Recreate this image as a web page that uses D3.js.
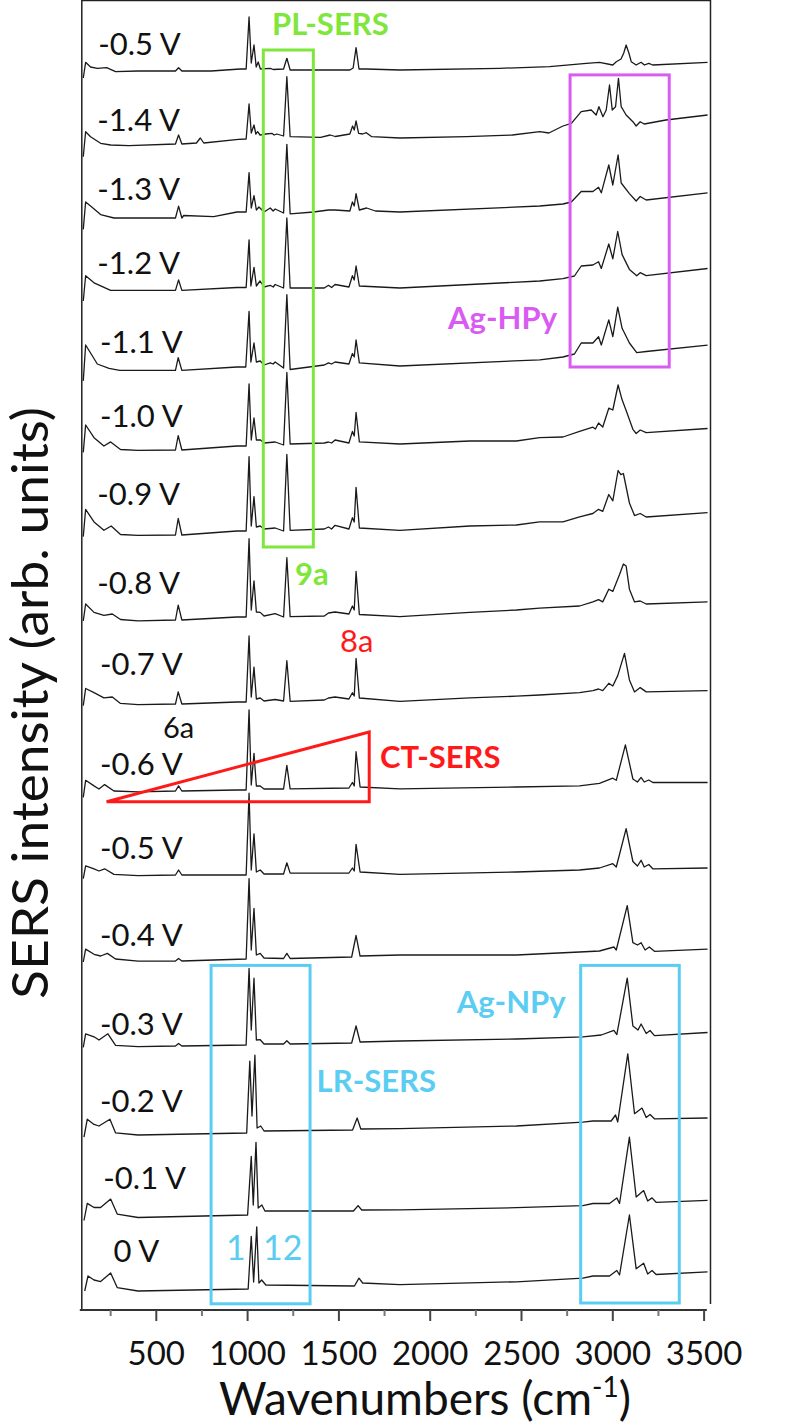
<!DOCTYPE html>
<html>
<head>
<meta charset="utf-8">
<script src="https://cdn.jsdelivr.net/npm/d3@7"></script>
<style>
  body { margin: 0; background: #fff; }
  text { font-family: Lato, "Open Sans", sans-serif; }
</style>
</head>
<body>
<script>
// Spectra from top to bottom, values are intensity above each trace's own offset
const labels = ["-0.5 V", "-1.4 V", "-1.3 V", "-1.2 V", "-1.1 V", "-1.0 V", "-0.9 V", "-0.8 V",
                "-0.7 V", "-0.6 V", "-0.5 V", "-0.4 V", "-0.3 V", "-0.2 V", "-0.1 V", "0 V"];
const offsets = [12400, 11720, 10980, 10220, 9440, 8660, 7800, 6930,
                 6090, 5210, 4360, 3550, 2690, 1810, 1000, 260];

const spA = [[100,-80],[113,77],[140,30],[177,17],[228,23],[277,-17],[400,-10],[605,-10],[622,23],[640,-10],[800,-10],[960,10],[992,10],[1008,530],[1020,70],[1035,250],[1047,30],[1058,80],[1070,10],[1124,17],[1140,5],[1197,10],[1215,117],[1233,0],[1400,0],[1560,0],[1578,20],[1594,223],[1610,10],[1650,10],[1834,0],[2380,17],[2654,33],[2855,67],[2927,77],[3000,50],[3019,83],[3045,110],[3060,170],[3073,250],[3088,170],[3101,83],[3128,50],[3155,77],[3173,50],[3197,67],[3219,50],[3519,77]];
const spB = [[100,-187],[113,63],[140,13],[195,-53],[250,-70],[350,-77],[605,-60],[622,30],[640,-60],[720,-50],[741,0],[760,-50],[950,-13],[992,-10],[1008,340],[1020,50],[1035,130],[1045,40],[1055,63],[1068,30],[1100,40],[1133,47],[1145,30],[1160,40],[1197,20],[1215,613],[1233,13],[1400,7],[1452,30],[1480,15],[1560,40],[1575,120],[1584,80],[1594,170],[1608,47],[1630,40],[1650,53],[1680,13],[1834,0],[2199,13],[2450,30],[2600,63],[2650,50],[2727,120],[2773,147],[2827,263],[2882,280],[2909,230],[2924,313],[2946,213],[2964,280],[2982,530],[2997,280],[3015,313],[3031,597],[3046,313],[3073,230],[3110,163],[3128,120],[3150,163],[3172,140],[3291,180],[3519,230]];
const spC = [[100,-174],[113,100],[140,60],[195,-26],[268,-60],[605,-60],[622,58],[640,-60],[650,-35],[814,-47],[942,0],[992,0],[1008,394],[1020,40],[1035,163],[1048,20],[1062,50],[1090,0],[1124,40],[1140,10],[1151,30],[1197,-10],[1215,676],[1233,-18],[1361,0],[1443,20],[1479,20],[1560,10],[1574,100],[1584,60],[1594,184],[1612,20],[1652,40],[1700,10],[1834,0],[2600,60],[2727,80],[2773,100],[2827,205],[2891,205],[2922,247],[2937,192],[2978,470],[3000,270],[3029,570],[3046,290],[3091,184],[3128,110],[3150,155],[3183,120],[3519,192]];
const spD = [[100,-130],[113,123],[159,52],[250,-24],[605,-24],[622,81],[640,-24],[942,5],[992,5],[1008,481],[1018,20],[1035,207],[1048,20],[1068,70],[1090,10],[1124,27],[1140,10],[1151,35],[1197,0],[1215,700],[1233,0],[1420,0],[1443,27],[1460,5],[1479,35],[1555,10],[1574,123],[1584,80],[1594,220],[1612,20],[1834,0],[2600,70],[2727,94],[2790,120],[2827,220],[2891,230],[2922,262],[2937,195],[2978,440],[3000,292],[3027,565],[3051,334],[3091,186],[3131,123],[3150,153],[3183,123],[3519,195]];
const spE = [[100,-149],[113,210],[177,20],[241,-23],[300,-44],[605,-44],[620,83],[640,-44],[942,-10],[990,-10],[1008,546],[1018,40],[1035,230],[1048,40],[1069,50],[1090,10],[1124,32],[1140,20],[1151,40],[1197,-20],[1215,714],[1233,-35],[1420,10],[1443,32],[1460,20],[1479,40],[1555,20],[1574,125],[1584,90],[1594,260],[1612,32],[1834,0],[2600,62],[2727,90],[2790,120],[2827,230],[2891,230],[2922,293],[2937,210],[2978,461],[3000,293],[3027,588],[3051,377],[3091,230],[3131,133],[3183,145],[3519,209]];
const spF = [[100,-84],[113,190],[159,63],[213,-20],[250,21],[304,-55],[400,-63],[605,-60],[620,84],[640,-60],[942,-20],[992,-20],[1008,602],[1020,40],[1035,260],[1048,40],[1069,42],[1090,10],[1151,20],[1197,-10],[1215,715],[1233,0],[1420,10],[1443,20],[1460,10],[1479,40],[1555,10],[1574,126],[1584,80],[1594,315],[1612,21],[1834,0],[2217,30],[2472,30],[2599,63],[2727,70],[2818,126],[2891,168],[2905,150],[2922,210],[2945,170],[2978,358],[3000,340],[3029,590],[3051,442],[3073,336],[3110,147],[3128,105],[3150,140],[3183,113],[3519,155]];
const spG = [[100,-66],[113,207],[159,81],[213,-3],[253,40],[304,-45],[400,-54],[605,-50],[620,115],[640,-50],[942,-10],[992,-10],[1008,734],[1020,40],[1035,334],[1048,30],[1069,40],[1090,10],[1151,20],[1197,-10],[1215,755],[1233,-3],[1420,10],[1443,30],[1460,10],[1479,47],[1555,10],[1574,123],[1584,80],[1594,426],[1612,20],[1834,-3],[2217,40],[2472,50],[2599,81],[2727,81],[2818,132],[2891,165],[2922,207],[2945,186],[2978,355],[3000,292],[3029,595],[3044,553],[3058,565],[3091,270],[3119,144],[3150,165],[3183,130],[3519,174]];
const spH = [[100,-38],[113,130],[159,46],[213,17],[259,30],[304,-25],[400,-38],[605,-30],[620,118],[640,-30],[942,0],[992,0],[1008,783],[1020,70],[1035,362],[1048,50],[1069,46],[1090,10],[1151,33],[1197,0],[1215,593],[1233,4],[1420,10],[1443,40],[1479,50],[1555,30],[1574,110],[1584,70],[1594,455],[1612,25],[1834,4],[2217,46],[2472,70],[2599,88],[2818,110],[2891,151],[2922,173],[2945,151],[2978,278],[3000,256],[3037,425],[3058,530],[3073,510],[3091,278],[3119,151],[3150,160],[3183,130],[3519,151]];
const spI = [[100,-46],[113,125],[159,83],[213,31],[259,40],[304,-24],[400,-37],[605,-30],[620,91],[640,-30],[942,-10],[992,-10],[1008,650],[1020,40],[1035,339],[1048,20],[1069,30],[1090,0],[1151,15],[1197,0],[1215,403],[1233,-3],[1420,10],[1443,30],[1479,40],[1555,20],[1574,83],[1584,50],[1594,425],[1612,30],[1834,-3],[2217,31],[2472,48],[2599,60],[2818,83],[2891,104],[2922,120],[2945,104],[2978,177],[3000,150],[3027,254],[3064,476],[3091,211],[3119,91],[3150,134],[3183,91],[3519,104]];
const spJ = [[100,-84],[113,87],[159,31],[186,0],[217,44],[268,-20],[400,-29],[605,-20],[622,31],[640,-20],[942,-10],[992,-10],[1008,792],[1020,40],[1035,356],[1048,30],[1069,31],[1090,0],[1197,0],[1215,236],[1233,1],[1555,10],[1574,65],[1584,30],[1594,373],[1616,20],[1834,1],[2472,20],[2818,31],[2927,57],[3000,108],[3019,87],[3069,441],[3110,100],[3135,70],[3155,116],[3172,70],[3197,90],[3219,65],[3519,65]];
const spK = [[100,-46],[113,82],[159,52],[186,30],[217,52],[268,-4],[400,-16],[605,-10],[622,40],[640,-10],[992,-10],[1008,808],[1020,40],[1035,402],[1048,20],[1069,40],[1090,0],[1197,0],[1215,112],[1233,9],[1555,10],[1574,60],[1584,30],[1594,296],[1616,20],[1834,-4],[2472,20],[2818,40],[2927,60],[3000,103],[3019,70],[3073,454],[3110,125],[3135,80],[3155,137],[3172,70],[3197,95],[3219,52],[3519,60]];
const spL = [[100,-70],[113,59],[159,7],[195,-10],[232,16],[277,-40],[400,-61],[605,-60],[622,-35],[640,-60],[992,-40],[1008,764],[1020,50],[1035,465],[1048,0],[1069,16],[1090,-30],[1197,-35],[1215,16],[1233,-35],[1570,-20],[1594,195],[1616,-10],[1834,0],[2472,0],[2818,30],[2927,40],[3006,80],[3019,50],[3079,494],[3110,123],[3135,100],[3155,123],[3177,50],[3200,80],[3228,37],[3519,59]];
const spM = [[100,-64],[113,72],[159,42],[186,10],[235,72],[277,-43],[400,-56],[605,-50],[622,-25],[640,-50],[992,-40],[1008,726],[1020,110],[1035,628],[1048,10],[1069,13],[1090,-30],[1197,-30],[1215,2],[1233,-30],[1570,-20],[1594,150],[1616,-10],[1834,0],[2472,20],[2836,42],[2937,60],[3006,107],[3022,64],[3079,628],[3110,150],[3138,110],[3155,170],[3183,75],[3204,105],[3228,54],[3519,85]];
const spN = [[104,-82],[122,98],[159,46],[186,30],[246,98],[277,-39],[400,-60],[995,-40],[1012,679],[1024,130],[1040,739],[1052,10],[1072,30],[1090,-20],[1575,-10],[1600,110],[1620,0],[1834,4],[2472,30],[2836,68],[2891,80],[2991,80],[3015,140],[3027,70],[3082,752],[3119,153],[3160,209],[3183,115],[3204,145],[3228,102],[3519,110]];
const spO = [[104,-105],[122,66],[159,25],[195,25],[250,109],[286,-41],[400,-75],[1000,-50],[1020,536],[1031,50],[1046,677],[1058,20],[1078,50],[1095,-10],[1580,-10],[1605,44],[1625,0],[1834,2],[2472,23],[2836,44],[2891,65],[2982,65],[3022,121],[3037,65],[3091,728],[3128,130],[3169,194],[3191,90],[3215,121],[3237,77],[3519,96]];
const spP = [[108,-70],[126,80],[159,40],[195,24],[250,110],[286,-36],[400,-70],[1003,-50],[1020,477],[1033,20],[1050,571],[1062,10],[1077,40],[1100,-10],[1585,-20],[1610,58],[1630,10],[1834,-6],[2472,22],[2836,58],[2891,80],[2982,80],[3022,135],[3037,90],[3091,690],[3128,152],[3169,208],[3191,100],[3215,135],[3237,95],[3519,122]];
const spectra = [spA, spB, spC, spD, spE, spF, spG, spH, spI, spJ, spK, spL, spM, spN, spO, spP];

// where each voltage label sits: wavenumber of its left edge, height above the trace offset
const labelWn = [182, 177, 177, 177, 192, 192, 177, 177, 192, 192, 192, 192, 192, 192, 210, 265];
const labelLift = [153, 75, 120, 144, 133, 168, 250, 230, 260, 142, 146, 93, 64, 166, 215, 220];

const xTicks = [500, 1000, 1500, 2000, 2500, 3000, 3500];
const xMinorTicks = [250, 750, 1250, 1750, 2250, 2750, 3250];

// annotation colours
const green = "#7fe63c", magenta = "#d95cf2", cyan = "#5bcdf2", red = "#ff1a1a";

// Setup
const width = 792, height = 1428;
const frameLeft = 92, frameRight = 3535;   // in cm-1
const x = d3.scaleLinear().domain([0, 3500]).range([65, 704.1]);
const y = d3.scaleLinear().domain([0, 13100]).range([1310, 0]);

const svg = d3.select("body").append("svg")
    .attr("width", width)
    .attr("height", height);

// frame (left, top, right)
svg.append("path")
    .attr("d", `M${x(frameLeft)},${y(0)} V${y(13100) + 0.5} H${x(frameRight)} V${y(0) - 6}`)
    .attr("fill", "none")
    .attr("stroke", "#222")
    .attr("stroke-width", 1.5);

// bottom axis
const axis = svg.append("g").attr("transform", `translate(0, ${y(0)})`);
axis.append("line")
    .attr("x1", x(frameLeft) - 2).attr("x2", x(3515))
    .attr("stroke", "#333").attr("stroke-width", 2);
axis.selectAll(".major").data(xTicks).join("line")
    .attr("x1", d => x(d)).attr("x2", d => x(d))
    .attr("y1", 0).attr("y2", 11)
    .attr("stroke", "#444").attr("stroke-width", 2);
axis.selectAll(".minor").data(xMinorTicks).join("line")
    .attr("x1", d => x(d)).attr("x2", d => x(d))
    .attr("y1", 0).attr("y2", 6)
    .attr("stroke", "#777").attr("stroke-width", 2);
axis.selectAll(".lab").data(xTicks).join("text")
    .attr("x", d => x(d)).attr("y", 55)
    .attr("text-anchor", "middle")
    .attr("font-size", 33)
    .attr("fill", "#111")
    .text(d => d);

// axis titles
const xt = svg.append("text")
    .attr("x", 425).attr("y", 1415)
    .attr("text-anchor", "middle")
    .attr("font-size", 46)
    .attr("fill", "#111");
xt.append("tspan").text("Wavenumbers (cm");
xt.append("tspan").attr("font-size", 28).attr("dy", -18).text("-1");
xt.append("tspan").attr("dy", 18).text(")");

svg.append("text")
    .attr("transform", "translate(48, 703) rotate(-90)")
    .attr("text-anchor", "middle")
    .attr("font-size", 50)
    .attr("textLength", 592)
    .attr("lengthAdjust", "spacingAndGlyphs")
    .attr("fill", "#111")
    .text("SERS intensity (arb. units)");

// spectra
const line = d3.line()
    .x(d => x(d[0]))
    .y(d => y(d[1]));

svg.append("g").selectAll("path")
    .data(spectra)
    .join("path")
    .attr("d", (s, i) => line(s.map(p => [p[0], p[1] + offsets[i]])))
    .attr("fill", "none")
    .attr("stroke", "#1a1a1a")
    .attr("stroke-width", 1.3)
    .attr("stroke-linejoin", "round");

svg.append("g").selectAll("text")
    .data(labels)
    .join("text")
    .attr("x", (d, i) => x(labelWn[i]))
    .attr("y", (d, i) => y(offsets[i] + labelLift[i]))
    .attr("font-size", 31)
    .attr("fill", "#111")
    .text(d => d);

// highlight boxes [wn1, wn2, top, bottom]
const boxes = [
  { c: green, b: [1086, 1360, 12600, 7630] },
  { c: magenta, b: [2766, 3309, 12351, 9430] },
  { c: cyan, b: [800, 1342, 3446, 62] },
  { c: cyan, b: [2824, 3364, 3446, 70] }
];
svg.append("g").selectAll("rect")
    .data(boxes)
    .join("rect")
    .attr("x", d => x(d.b[0]))
    .attr("y", d => y(d.b[2]))
    .attr("width", d => x(d.b[1]) - x(d.b[0]))
    .attr("height", d => y(d.b[3]) - y(d.b[2]))
    .attr("fill", "none")
    .attr("stroke", d => d.c)
    .attr("stroke-width", 3);

// CT-SERS wedge
const wedge = [[228, 5083], [1666, 5780], [1666, 5083]];
svg.append("path")
    .attr("d", d3.line().x(d => x(d[0])).y(d => y(d[1]))(wedge) + "Z")
    .attr("fill", "none")
    .attr("stroke", red)
    .attr("stroke-width", 3);

// annotation text
const notes = [
  { t: "PL-SERS", wn: 1134, v: 12750, c: green, w: "bold", s: 31 },
  { t: "9a", wn: 1260, v: 7250, c: green, w: "bold", s: 31 },
  { t: "8a", wn: 1506, v: 6580, c: red, w: "normal", s: 31 },
  { t: "6a", wn: 537, v: 5720, c: "#111", w: "normal", s: 29 },
  { t: "CT-SERS", wn: 1725, v: 5420, c: red, w: "bold", s: 31 },
  { t: "Ag-HPy", wn: 2098, v: 9810, c: magenta, w: "bold", s: 31 },
  { t: "LR-SERS", wn: 1378, v: 2177, c: cyan, w: "bold", s: 31 },
  { t: "Ag-NPy", wn: 2145, v: 2970, c: cyan, w: "bold", s: 31 },
  { t: "1", wn: 882, v: 500, c: cyan, w: "normal", s: 34 },
  { t: "12", wn: 1085, v: 500, c: cyan, w: "normal", s: 34 }
];
svg.append("g").selectAll("text")
    .data(notes)
    .join("text")
    .attr("x", d => x(d.wn))
    .attr("y", d => y(d.v))
    .attr("font-size", d => d.s)
    .attr("font-weight", d => d.w)
    .attr("fill", d => d.c)
    .text(d => d.t);
</script>
</body>
</html>
